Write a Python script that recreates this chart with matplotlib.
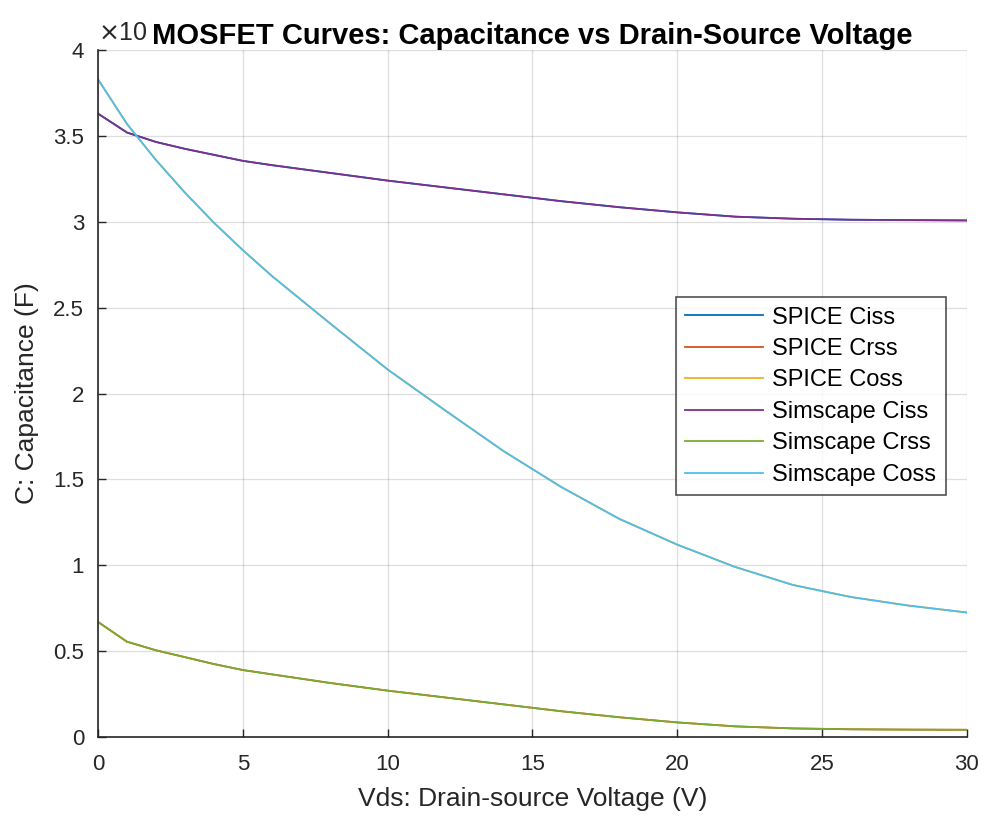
import numpy as np
import matplotlib.pyplot as plt

plt.rcParams['font.family'] = ['Liberation Sans', 'DejaVu Sans']

# Vds (V) and capacitances in units of 1e-10 F
vds = [0, 1, 2, 3, 4, 5, 6, 8, 10, 12, 14, 16, 18, 20, 22, 24, 26, 28, 30]
ciss = [3.63, 3.52, 3.465, 3.425, 3.39, 3.355, 3.33, 3.285, 3.24, 3.20, 3.16,
        3.12, 3.085, 3.055, 3.03, 3.018, 3.012, 3.01, 3.008]
crss = [0.67, 0.555, 0.505, 0.465, 0.425, 0.39, 0.365, 0.315, 0.27, 0.23, 0.19,
        0.15, 0.115, 0.085, 0.062, 0.05, 0.045, 0.043, 0.042]
coss = [3.83, 3.57, 3.36, 3.17, 2.995, 2.835, 2.685, 2.41, 2.14, 1.90, 1.665,
        1.455, 1.27, 1.12, 0.99, 0.885, 0.815, 0.765, 0.725]

labels = ['SPICE Ciss', 'SPICE Crss', 'SPICE Coss',
          'Simscape Ciss', 'Simscape Crss', 'Simscape Coss']
colors = ['#0072BD', '#D95319', '#EDB120', '#7E2F8E', '#77AC30', '#4DBEEE']
series = [ciss, crss, coss, ciss, crss, coss]

fig = plt.figure(figsize=(9.86, 8.21), dpi=100)
ax = fig.add_axes([0.0994, 0.1023, 0.8813, 0.8367])

for y, c, lab in zip(series, colors, labels):
    ax.plot(vds, y, color=c, linewidth=1.3, label=lab)

ax.set_xlim(0, 30)
ax.set_ylim(0, 4)
ax.set_xticks(np.arange(0, 31, 5))
ax.set_yticks(np.arange(0, 4.01, 0.5))
ax.set_yticklabels(['0', '0.5', '1', '1.5', '2', '2.5', '3', '3.5', '4'])
ax.grid(True, color='#262626', alpha=0.15, linewidth=0.9)
ax.tick_params(direction='in', length=6, width=1.0, labelsize=16,
               colors='#262626', pad=12)
ax.tick_params(axis='y', pad=10)
ax.spines['top'].set_visible(False)
ax.spines['right'].set_visible(False)
for s in ['left', 'bottom']:
    ax.spines[s].set_color('#262626')
    ax.spines[s].set_linewidth(1.2)

ax.set_xlabel('Vds: Drain-source Voltage (V)', fontsize=19, color='#262626',
              labelpad=9)
ax.set_ylabel('C: Capacitance (F)', fontsize=19, color='#262626', labelpad=10)
ax.text(0.0, 1.008, r'$\times$10', transform=ax.transAxes, fontsize=18,
        color='#262626', ha='left', va='bottom')
ax.set_title('MOSFET Curves: Capacitance vs Drain-Source Voltage',
             fontsize=21, fontweight='bold', pad=4, color='black')

leg = ax.legend(loc='lower left', bbox_to_anchor=(0.665, 0.352), fontsize=17,
                frameon=True, fancybox=False, edgecolor='#262626',
                handlelength=3.3, borderpad=0.4, labelspacing=0.4,
                handletextpad=0.38, borderaxespad=0)
leg.get_frame().set_linewidth(1.2)

fig.savefig('out.png', dpi=100)
